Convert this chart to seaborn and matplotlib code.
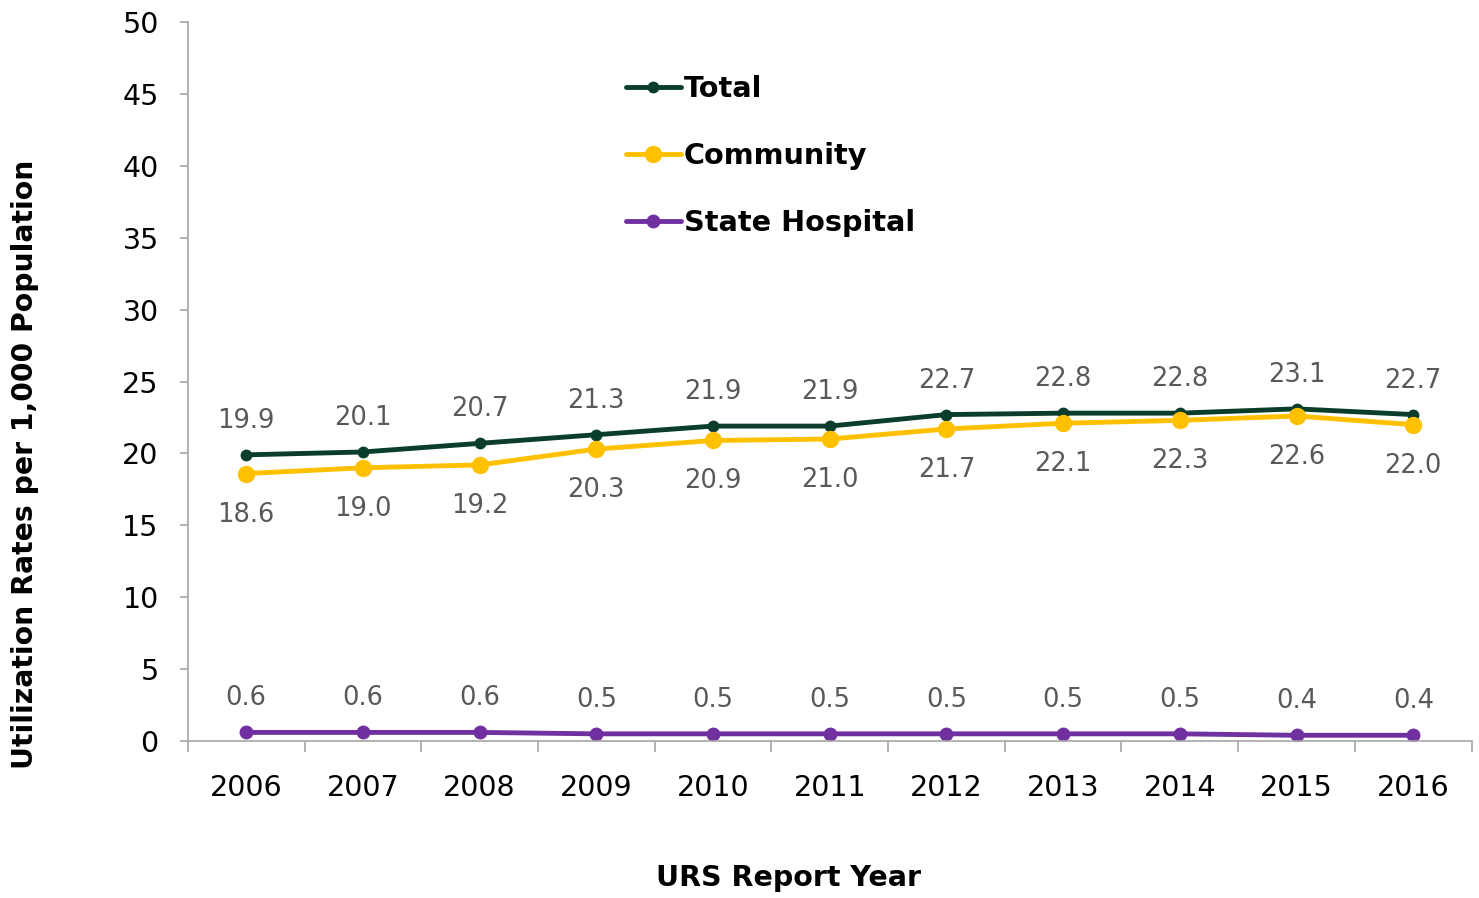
import matplotlib
matplotlib.use("Agg")
import matplotlib.pyplot as plt
import seaborn as sns
import pandas as pd
from matplotlib.ticker import FixedLocator

years = [2006, 2007, 2008, 2009, 2010, 2011, 2012, 2013, 2014, 2015, 2016]
total = [19.9, 20.1, 20.7, 21.3, 21.9, 21.9, 22.7, 22.8, 22.8, 23.1, 22.7]
community = [18.6, 19.0, 19.2, 20.3, 20.9, 21.0, 21.7, 22.1, 22.3, 22.6, 22.0]
state_hospital = [0.6, 0.6, 0.6, 0.5, 0.5, 0.5, 0.5, 0.5, 0.5, 0.4, 0.4]
series_names = ["Total", "Community", "State Hospital"]
colors = {"Total": "#0A3D2A", "Community": "#FFC000", "State Hospital": "#7030A0"}
y_ticks = [0, 5, 10, 15, 20, 25, 30, 35, 40, 45, 50]

sns.set_style("white")
plt.rcParams['font.family'] = ['DejaVu Sans']

df = pd.DataFrame({
    "year": years * 3,
    "value": total + community + state_hospital,
    "series": ["Total"] * len(years) + ["Community"] * len(years) + ["State Hospital"] * len(years),
})

fig = plt.figure(figsize=(14.79, 8.98), dpi=100)
ax = fig.add_axes([0.127, 0.1748, 0.868, 0.8007])

sizes = {"Total": 8.5, "Community": 12.5, "State Hospital": 10}
for name in series_names:
    sub = df[df.series == name]
    sns.lineplot(data=sub, x="year", y="value", ax=ax, color=colors[name], lw=3.5,
                 marker="o", markersize=sizes[name], markeredgewidth=0, label=name)

offsets = {"Total": 24.5, "Community": -29.5, "State Hospital": 24.5}
for name, vals in zip(series_names, [total, community, state_hospital]):
    for x, v in zip(years, vals):
        ax.annotate(f"{v:.1f}", (x, v), xytext=(0, offsets[name]), textcoords="offset points",
                    ha="center", va="center", fontsize=18.5, color="#595959")

ax.set_xlim(2005.5, 2016.5)
ax.set_ylim(0, 50)
ax.set_yticks(y_ticks)
ax.set_xticks(years)
ax.xaxis.set_minor_locator(FixedLocator([y - 0.5 for y in years] + [years[-1] + 0.5]))
ax.tick_params(axis="x", which="major", bottom=True, length=0, pad=24, labelsize=20.5, labelcolor="black")
ax.tick_params(axis="x", which="minor", bottom=True, length=8, width=1.2, color="#A6A6A6", direction="out")
ax.tick_params(axis="y", left=True, length=6, width=1.2, color="#A6A6A6", direction="out",
               labelsize=20.5, pad=15, labelcolor="black")
for s in ["top", "right"]:
    ax.spines[s].set_visible(False)
for s in ["left", "bottom"]:
    ax.spines[s].set_color("#A6A6A6")
    ax.spines[s].set_linewidth(1.2)

ax.set_xlabel("URS Report Year", fontsize=20.5, fontweight="bold", color="black")
ax.xaxis.set_label_coords(0.468, -0.1905)
ax.xaxis.label.set_va("center")
ax.set_ylabel("Utilization Rates per 1,000 Population", fontsize=20.3, fontweight="bold", color="black")
ax.yaxis.set_label_coords(-0.127, 0.385)
ax.yaxis.label.set_va("center")

leg = ax.legend(loc="upper left", bbox_to_anchor=(0.3325, 0.942), frameon=False,
                prop={"weight": "bold", "size": 20.7}, handlelength=1.9, handletextpad=0.1,
                labelspacing=1.35, borderaxespad=0)
for t in leg.get_texts():
    t.set_color("black")

fig.savefig("out.png", dpi=100)
